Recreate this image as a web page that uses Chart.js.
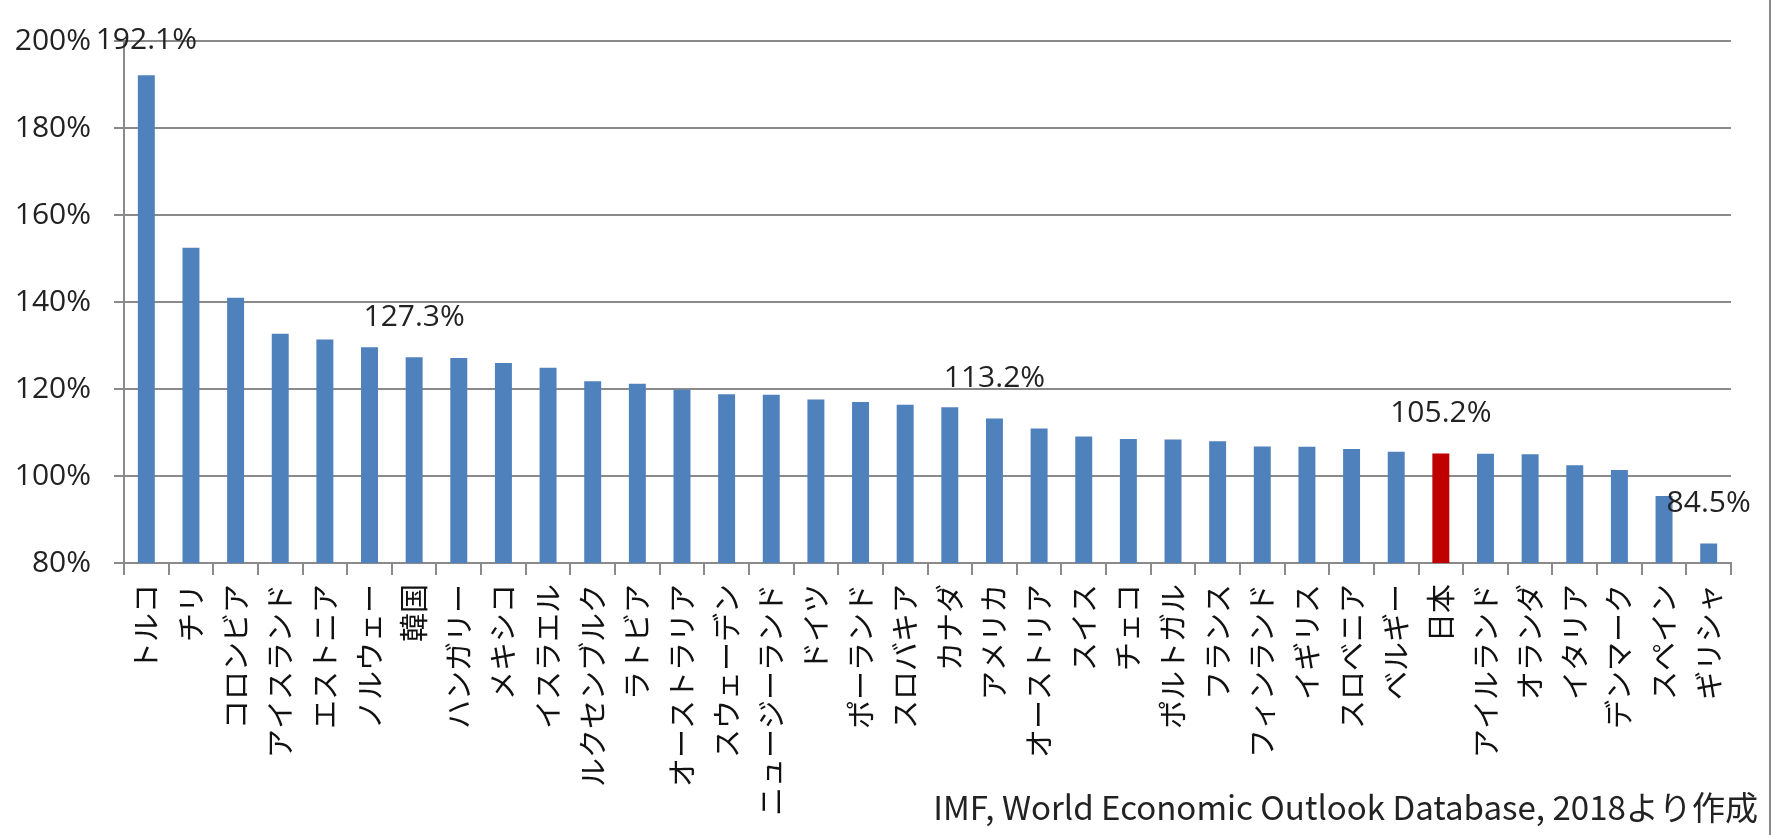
<!DOCTYPE html>
<html><head><meta charset="utf-8">
<script src="https://cdn.jsdelivr.net/npm/chart.js@4.4.1/dist/chart.umd.min.js"></script>
<style>
html,body{margin:0;padding:0;background:#fff;overflow:hidden}
#wrap{position:relative;width:1773px;height:835px;background:#fff}
</style></head>
<body><div id="wrap"><canvas id="c" width="1773" height="835"></canvas></div>
<script>
const categories = ['トルコ','チリ','コロンビア','アイスランド','エストニア','ノルウェー','韓国','ハンガリー','メキシコ','イスラエル','ルクセンブルク','ラトビア','オーストラリア','スウェーデン','ニュージーランド','ドイツ','ポーランド','スロバキア','カナダ','アメリカ','オーストリア','スイス','チェコ','ポルトガル','フランス','フィンランド','イギリス','スロベニア','ベルギー','日本','アイルランド','オランダ','イタリア','デンマーク','スペイン','ギリシャ'];
const ratios = [192.1,152.5,141.0,132.7,131.4,129.6,127.3,127.1,126.0,124.9,121.8,121.2,119.8,118.8,118.7,117.6,117.0,116.4,115.8,113.2,110.9,109.1,108.5,108.4,108.0,106.8,106.7,106.2,105.6,105.2,105.1,105.0,102.5,101.4,95.4,84.5];
const yTickValues = [80,100,120,140,160,180,200];
const highlightCategory = '日本';
const labeledCategories = ['トルコ','韓国','アメリカ','日本','ギリシャ'];
const sourceNote = 'IMF, World Economic Outlook Database, 2018より作成';

const BLUE = '#4F81BD';
const RED = '#C00000';
const GRID = '#8a8a8a';

const barColors = categories.map(c => c === highlightCategory ? RED : BLUE);

const labelPlugin = {
  id: 'valueLabels',
  afterDatasetsDraw(chart) {
    const ctx = chart.ctx;
    const meta = chart.getDatasetMeta(0);
    ctx.save();
    ctx.font = '30px "Open Sans", sans-serif';
    ctx.fillStyle = '#222';
    ctx.textAlign = 'center';
    ctx.textBaseline = 'middle';
    labeledCategories.forEach(name => {
      const i = categories.indexOf(name);
      const bar = meta.data[i];
      const y = Math.max(bar.y - 40, 40);
      ctx.fillText(ratios[i].toFixed(1) + '%', bar.x, y);
    });
    ctx.restore();
  },
  afterDraw(chart) {
    const ctx = chart.ctx;
    ctx.save();
    let size = 30;
    ctx.font = size + 'px "Noto Sans CJK JP", sans-serif';
    const w = ctx.measureText(sourceNote).width;
    size = Math.max(22, Math.min(34, size * 825 / w));
    ctx.font = size + 'px "Noto Sans CJK JP", sans-serif';
    ctx.fillStyle = '#222';
    ctx.textAlign = 'right';
    ctx.textBaseline = 'alphabetic';
    ctx.fillText(sourceNote, 1758, 820);
    ctx.strokeStyle = GRID;
    ctx.lineWidth = 2;
    ctx.beginPath();
    ctx.moveTo(1770, 0);
    ctx.lineTo(1770, 835);
    ctx.stroke();
    ctx.restore();
  }
};

new Chart(document.getElementById('c'), {
  type: 'bar',
  data: {
    labels: categories,
    datasets: [{
      data: ratios,
      backgroundColor: barColors,
      borderWidth: 0,
      barPercentage: 0.38,
      categoryPercentage: 1.0
    }]
  },
  options: {
    responsive: false,
    animation: false,
    devicePixelRatio: 1,
    layout: { padding: { top: 23, right: 42, left: 0, bottom: 0 } },
    plugins: { legend: { display: false }, tooltip: { enabled: false } },
    scales: {
      x: {
        offset: true,
        afterFit: s => { s.height = 272; },
        grid: { drawOnChartArea: false, drawTicks: true, tickLength: 12, color: GRID, lineWidth: 2, offset: true },
        border: { color: GRID, width: 2 },
        ticks: {
          autoSkip: false, maxRotation: 90, minRotation: 90, padding: 9,
          color: '#111',
          font: { family: '"Noto Sans CJK JP", sans-serif', size: 29 }
        }
      },
      y: {
        min: yTickValues[0],
        max: yTickValues[yTickValues.length - 1],
        afterFit: s => { s.width = 124; },
        afterBuildTicks: s => { s.ticks = yTickValues.map(v => ({ value: v })); },
        grid: { color: GRID, lineWidth: 2, tickLength: 10 },
        border: { color: GRID, width: 2 },
        ticks: {
          padding: 23,
          color: '#222',
          font: { family: '"Open Sans", sans-serif', size: 30 },
          callback: v => v + '%'
        }
      }
    }
  },
  plugins: [labelPlugin]
});
</script>
</body></html>
